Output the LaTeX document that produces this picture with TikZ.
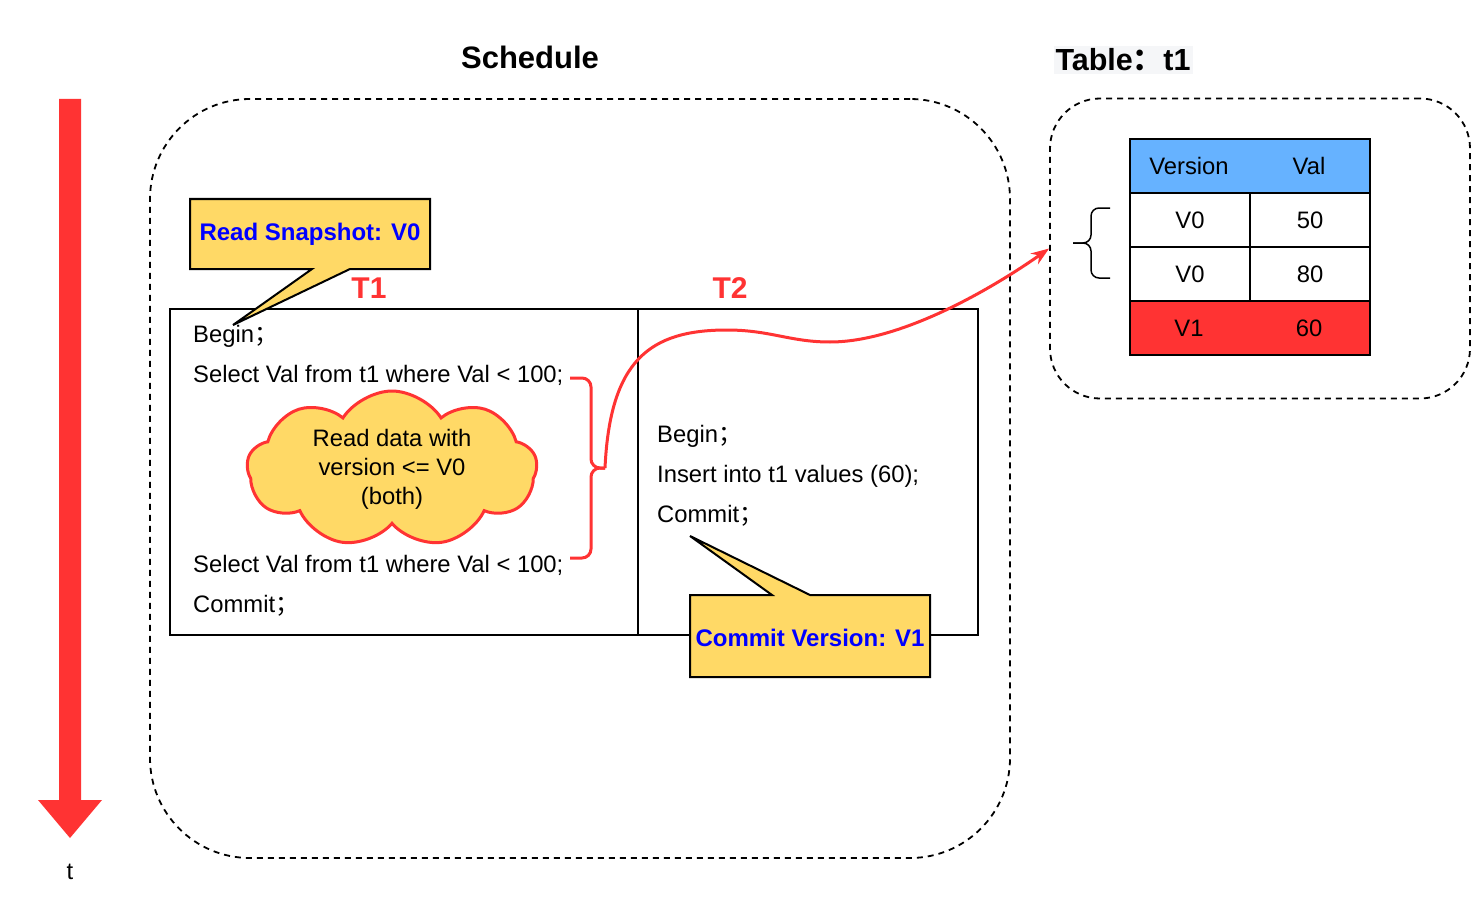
\documentclass[tikz,border=0pt]{standalone}
\usepackage{fontspec}
\setmainfont{Liberation Sans}
\newfontfamily\cjk{Noto Sans CJK SC}
\usetikzlibrary{shapes.symbols,arrows.meta}
\definecolor{rd}{HTML}{FF3333}
\definecolor{yl}{HTML}{FFD966}
\definecolor{bl}{HTML}{66B2FF}
\definecolor{tb}{HTML}{0000FF}
\definecolor{tbg}{HTML}{F5F6F8}
\tikzset{
  body/.style={font=\fontsize{23.8}{29}\selectfont, inner sep=0pt},
  code/.style={body, anchor=mid west},
  dbox/.style={draw, dashed, dash pattern=on 6pt off 5pt, line width=1.8pt, inner sep=0pt},
  cell/.style={draw, line width=2pt, inner sep=0pt, minimum width=120pt, minimum height=54pt, body},
  tlabel/.style={font=\fontsize{30}{34}\selectfont\bfseries, text=rd, inner sep=0pt},
  calltext/.style={font=\fontsize{24}{28}\selectfont\bfseries, text=tb, inner sep=0pt},
  callshape/.style={fill=yl, draw, line width=2pt, line join=miter},
  title/.style={font=\fontsize{31}{36}\selectfont\bfseries, inner sep=0pt},
}
\begin{document}
\begin{tikzpicture}[x=1pt,y=-1pt]
\useasboundingbox (0,0) rectangle (1482,912);
\fill[white] (0,0) rectangle (1482,912);

% time arrow
\fill[rd] (59,99) -- (81,99) -- (81,800) -- (102,800) -- (70,838) -- (38,800) -- (59,800) -- cycle;
\node[body] (tlab) at (70,872) {t};

% titles
\node[title] (schedtitle) at (530,57) {Schedule};
\node[title, fill=tbg, font=\fontsize{30.5}{34}\selectfont\bfseries, inner xsep=2pt, inner ysep=3pt] (tabletitle) at (1123,60) {Table{\cjk\bfseries ：}t1};

% dashed containers
\node[dbox, rounded corners=100pt, minimum width=860pt, minimum height=759pt] (sched) at (580,478.5) {};
\node[dbox, rounded corners=50pt, minimum width=420pt, minimum height=300pt] (tbox) at (1260,248.5) {};

% schedule table
\draw[line width=2pt] (170,309) rectangle (978,635);
\draw[line width=2pt] (638,309) -- (638,635);
\node[tlabel] (t1) at (369,288) {T1};
\node[tlabel] (t2) at (730,288) {T2};

% T1 text
\node[code] (b1) at (193,340) {Begin{\cjk ；}};
\node[code] (s1) at (193,380) {Select Val from t1 where Val < 100;};
\node[code] (s2) at (193,570) {Select Val from t1 where Val < 100;};
\node[code] (c1) at (193,610) {Commit{\cjk ；}};

% T2 text
\node[code] (b2) at (657,440) {Begin{\cjk ；}};
\node[code] (ins) at (657,480) {Insert into t1 values (60);};
\node[code] (c2) at (657,520) {Commit{\cjk ；}};

% cloud
\node[cloud, cloud puffs=9, cloud puff arc=115, cloud ignores aspect, draw=rd, line width=3pt, fill=yl,
      minimum width=290pt, minimum height=156pt, align=center, body] (cloud) at (392,469)
      {Read data with\\version <= V0\\(both)};

% red brace
\coordinate (bt) at (605,468);
\draw[rd, line width=3pt, rounded corners=9pt] (570,378) -- (591,378) -- (591,468) -- (bt);
\draw[rd, line width=3pt, rounded corners=9pt] (bt) -- (591,468) -- (591,558) -- (570,558);

% callout: read snapshot
\draw[callshape] (190,199) -- (430,199) -- (430,269) -- (350,269) -- (233,325) -- (312,269) -- (190,269) -- cycle;
\node[calltext] (rs) at (310,234) {Read Snapshot: V0};

% callout: commit version
\draw[callshape] (690,595) -- (772,595) -- (690,536) -- (810,595) -- (930,595) -- (930,677) -- (690,677) -- cycle;
\node[calltext] (cv) at (810,638) {Commit Version: V1};

% curved arrow
\draw[rd, line width=3pt, -{Stealth[length=18pt,width=13pt]}]
  (bt) .. controls (610,360) and (650,330) .. (727,330)
       .. controls (770,330) and (790,342) .. (830,342)
       .. controls (900,342) and (990,290) .. (tbox.west);

% data table
\node[draw, line width=2pt, fill=bl, minimum width=240pt, minimum height=54pt, inner sep=0pt] (hdr) at (1250,166) {};
\node[body] (hv) at (1189,166) {Version};
\node[body] (hval) at (1309,166) {Val};
\node[cell] (r1a) at (1190,220) {V0};
\node[cell] (r1b) at (1310,220) {50};
\node[cell] (r2a) at (1190,274) {V0};
\node[cell] (r2b) at (1310,274) {80};
\node[draw, line width=2pt, fill=rd, minimum width=240pt, minimum height=54pt, inner sep=0pt] (r3) at (1250,328) {};
\node[body] (r3a) at (1189,328) {V1};
\node[body] (r3b) at (1309,328) {60};

% black brace
\coordinate (bb) at (1073,243);
\draw[line width=1.5pt, rounded corners=8pt] (1110,208) -- (1091,208) -- (1091,243) -- (bb);
\draw[line width=1.5pt, rounded corners=8pt] (bb) -- (1091,243) -- (1091,278) -- (1110,278);
\end{tikzpicture}
\end{document}
